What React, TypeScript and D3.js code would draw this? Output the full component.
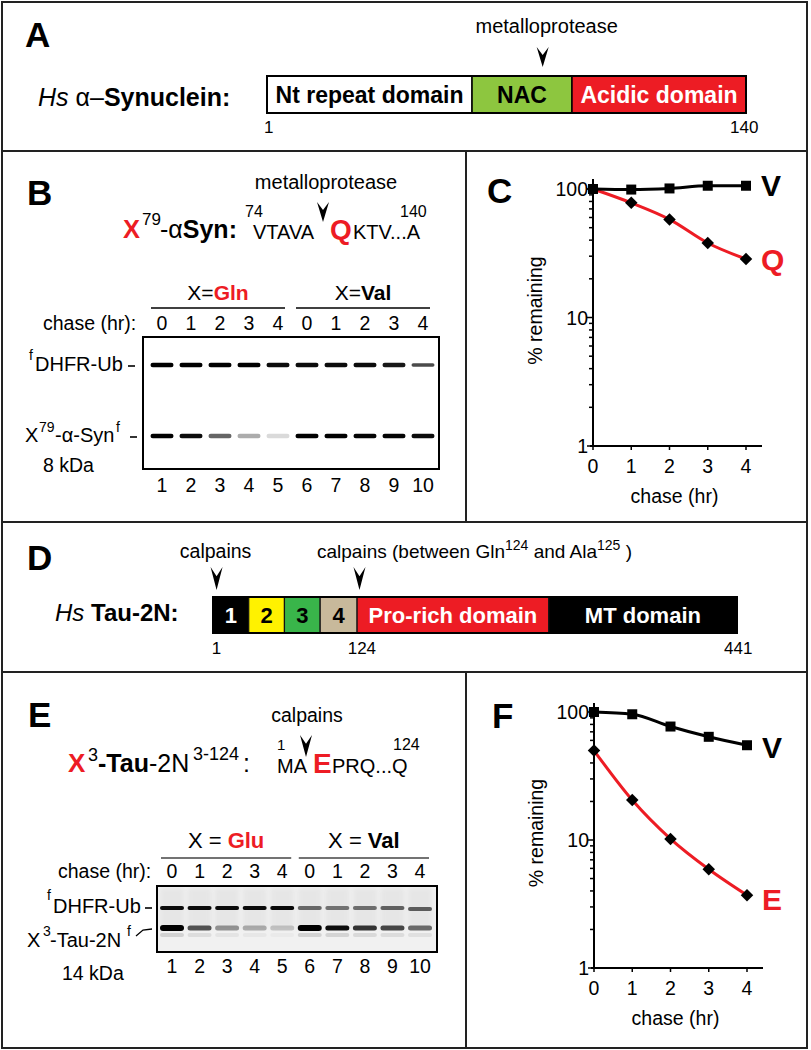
import React from 'react';
import * as d3 from 'd3';

const FONT = '"Liberation Sans", Arial, Helvetica, sans-serif';
const RED = '#ed1c24';

// ---------- Panel A: alpha-synuclein domains ----------
const synEnds = [1, 140];
const synDomainNames = ['Nt repeat domain', 'NAC', 'Acidic domain'];
const synDomainBounds = [1, 60.5, 89.5, 140];
const synDomainFills = ['#ffffff', '#8dc63f', RED];
const synDomainTextFill = ['#000000', '#000000', '#ffffff'];
const synCleavage = 81;
const synMarkPos = [1.5, 139.5];
const synMarkLabels = ['1', '140'];

// ---------- Panel D: Tau-2N domains ----------
const tauEnds = [1, 441];
const tauDomainNames = ['1', '2', '3', '4', 'Pro-rich domain', 'MT domain'];
const tauDomainBounds = [1, 31, 61, 91, 122, 283, 441];
const tauDomainFills = ['#000000', '#fff200', '#39b54a', '#c8b99b', RED, '#000000'];
const tauDomainTextFill = ['#ffffff', '#000000', '#000000', '#000000', '#ffffff', '#ffffff'];
const tauCleavages = [4, 124];
const tauMarkPos = [4, 126, 442];
const tauMarkLabels = ['1', '124', '441'];

// ---------- Gels ----------
const lanes = [1, 2, 3, 4, 5, 6, 7, 8, 9, 10];
const laneHours = [0, 1, 2, 3, 4, 0, 1, 2, 3, 4];
const gelBGroups = ['Gln', 'Val'];
const gelEGroups = ['Glu', 'Val'];
const gelB_dhfr = [1, 1, 1, 1, 0.95, 0.95, 0.95, 0.95, 0.9, 0.7];
const gelB_syn = [1, 0.95, 0.6, 0.32, 0.14, 1, 1, 0.98, 0.98, 0.95];
const gelE_dhfr = [0.95, 0.95, 0.95, 0.95, 0.97, 0.55, 0.5, 0.52, 0.58, 0.6];
const gelE_tau = [1, 0.65, 0.38, 0.28, 0.18, 1, 0.95, 0.78, 0.7, 0.55];

// ---------- Degradation curves ----------
const hours = [0, 1, 2, 3, 4];
const C_V = [100, 99, 101, 106, 106];
const C_Q = [100, 78, 58, 38, 28.5];
const F_V = [100, 96, 77, 64, 55];
const F_E = [50, 20.5, 10.2, 5.9, 3.7];

function Arrowhead({ x, y, h = 20, w = 6 }: { x: number; y: number; h?: number; w?: number }) {
  const p = d3.path();
  p.moveTo(x - w, y);
  p.lineTo(x, y + h * 0.4);
  p.lineTo(x + w, y);
  p.lineTo(x, y + h);
  p.closePath();
  return <path d={p.toString()} fill="#000" />;
}

function Frame() {
  const c = '#222';
  return (
    <g stroke={c} strokeWidth={2} fill="none">
      <rect x={2} y={2} width={805} height={1046} />
      <line x1={2} x2={807} y1={151} y2={151} />
      <line x1={2} x2={807} y1={522} y2={522} />
      <line x1={2} x2={807} y1={672} y2={672} />
      <line x1={466} x2={466} y1={151} y2={522} />
      <line x1={466} x2={466} y1={672} y2={1048} />
    </g>
  );
}

function PanelA() {
  const x = d3.scaleLinear().domain(synEnds).range([267, 746]);
  const top = 76;
  const h = 37;
  return (
    <g>
      <text x={25} y={47} fontSize={35} fontWeight="bold">A</text>
      <text x={x(synCleavage) + 4} y={33} fontSize={20} textAnchor="middle">metalloprotease</text>
      <Arrowhead x={x(synCleavage)} y={47} h={20} />
      <text x={38} y={106} fontSize={25}>
        <tspan fontStyle="italic">Hs</tspan> α–<tspan fontWeight="bold">Synuclein:</tspan>
      </text>
      {synDomainNames.map((n, i) => {
        const x0 = x(synDomainBounds[i]);
        const x1 = x(synDomainBounds[i + 1]);
        return (
          <g key={n}>
            <rect x={x0} y={top} width={x1 - x0} height={h} fill={synDomainFills[i]} stroke="#000" strokeWidth={1.5} />
            <text x={(x0 + x1) / 2} y={top + 26.5} fontSize={23} fontWeight="bold" textAnchor="middle" fill={synDomainTextFill[i]}>{n}</text>
          </g>
        );
      })}
      <rect x={x(synEnds[0])} y={top} width={x(synEnds[1]) - x(synEnds[0])} height={h} fill="none" stroke="#000" strokeWidth={2} />
      {synMarkPos.map((p, i) => (
        <text key={i} x={x(p)} y={133} fontSize={17} textAnchor="middle">{synMarkLabels[i]}</text>
      ))}
    </g>
  );
}

function PanelD() {
  const x = d3.scaleLinear().domain(tauEnds).range([213, 737]);
  const top = 597;
  const h = 36;
  return (
    <g>
      <text x={27} y={570} fontSize={35} fontWeight="bold">D</text>
      <text x={x(tauCleavages[0]) - 1} y={558} fontSize={19.5} textAnchor="middle">calpains</text>
      <text x={317} y={558} fontSize={19}>
        calpains (between Gln<tspan fontSize={14} dy={-8}>124</tspan>
        <tspan dy={8}> and Ala</tspan>
        <tspan fontSize={14} dy={-8}>125</tspan>
        <tspan dy={8}> )</tspan>
      </text>
      {tauCleavages.map((c) => (
        <Arrowhead key={c} x={x(c)} y={567} h={23} />
      ))}
      <text x={55} y={621} fontSize={24}>
        <tspan fontStyle="italic">Hs</tspan> <tspan fontWeight="bold">Tau-2N:</tspan>
      </text>
      {tauDomainNames.map((n, i) => {
        const x0 = x(tauDomainBounds[i]);
        const x1 = x(tauDomainBounds[i + 1]);
        return (
          <g key={n}>
            <rect x={x0} y={top} width={x1 - x0} height={h} fill={tauDomainFills[i]} stroke="#111" strokeWidth={1.2} />
            <text x={(x0 + x1) / 2} y={top + 26} fontSize={22} fontWeight="bold" textAnchor="middle" fill={tauDomainTextFill[i]}>{n}</text>
          </g>
        );
      })}
      <rect x={x(tauEnds[0])} y={top} width={x(tauEnds[1]) - x(tauEnds[0])} height={h} fill="none" stroke="#000" strokeWidth={2} />
      {tauMarkPos.map((p, i) => (
        <text key={i} x={x(p)} y={654} fontSize={17} textAnchor="middle">{tauMarkLabels[i]}</text>
      ))}
    </g>
  );
}

function Band({ cx, cy, w, h, v }: { cx: number; cy: number; w: number; h: number; v: number }) {
  return (
    <rect x={cx - w / 2} y={cy - h / 2} width={w} height={h} rx={h / 2} fill="#000" opacity={v} filter="url(#blur)" />
  );
}

function PanelB() {
  const lx = d3.scalePoint<number>().domain(lanes).range([162, 423]);
  const groups = [lanes.slice(0, 5), lanes.slice(5)];
  return (
    <g>
      <text x={27} y={205} fontSize={35} fontWeight="bold">B</text>
      <text x={326} y={189} fontSize={20} textAnchor="middle">metalloprotease</text>
      <Arrowhead x={323} y={202} h={20} />
      <text x={123} y={238} fontSize={25.5} fontWeight="bold" fill={RED}>X</text>
      <text x={142} y={225} fontSize={17}>79</text>
      <text x={160} y={238} fontSize={25}>-α<tspan fontWeight="bold">Syn:</tspan></text>
      <text x={245} y={217} fontSize={16}>74</text>
      <text x={253} y={239} fontSize={20}>VTAVA</text>
      <text x={330} y={239} fontSize={28} fontWeight="bold" fill={RED}>Q</text>
      <text x={353} y={239} fontSize={20}>KTV...A</text>
      <text x={400} y={217} fontSize={16}>140</text>

      {groups.map((g, gi) => {
        const x0 = (lx(g[0]) as number) - 11;
        const x1 = (lx(g[g.length - 1]) as number) + 7;
        return (
          <g key={gi}>
            <text x={(x0 + x1) / 2} y={300} fontSize={21} textAnchor="middle">
              X=<tspan fontWeight="bold" fill={gi === 0 ? RED : '#000'}>{gelBGroups[gi]}</tspan>
            </text>
            <line x1={x0} x2={x1} y1={308} y2={308} stroke="#000" strokeWidth={1.5} />
          </g>
        );
      })}
      <text x={43} y={330} fontSize={19.5}>chase (hr):</text>
      {lanes.map((l, i) => (
        <text key={l} x={lx(l)} y={330} fontSize={19.5} textAnchor="middle">{laneHours[i]}</text>
      ))}
      <rect x={143} y={337} width={296} height={132} fill="#fff" stroke="#000" strokeWidth={2} />
      {lanes.map((l, i) => (
        <g key={l}>
          <Band cx={lx(l) as number} cy={365} w={23} h={i === 9 ? 3.5 : 4.5} v={gelB_dhfr[i]} />
          <Band cx={lx(l) as number} cy={436} w={23} h={4.5} v={gelB_syn[i]} />
        </g>
      ))}
      <text x={29} y={360} fontSize={14}>f</text>
      <text x={35} y={371} fontSize={20}>DHFR-Ub</text>
      <line x1={128} x2={135} y1={366} y2={366} stroke="#000" strokeWidth={1.6} />
      <text x={25} y={442} fontSize={20}>X</text>
      <text x={39} y={432} fontSize={14}>79</text>
      <text x={55} y={442} fontSize={20}>-α-Syn</text>
      <text x={116} y={432} fontSize={14}>f</text>
      <line x1={130} x2={137} y1={437} y2={437} stroke="#000" strokeWidth={1.6} />
      <text x={43} y={472} fontSize={19.5}>8 kDa</text>
      {lanes.map((l) => (
        <text key={l} x={lx(l)} y={492} fontSize={19.5} textAnchor="middle">{l}</text>
      ))}
    </g>
  );
}

function PanelE() {
  const lx = d3.scalePoint<number>().domain(lanes).range([172, 420]);
  const groups = [lanes.slice(0, 5), lanes.slice(5)];
  return (
    <g>
      <text x={28} y={727} fontSize={35} fontWeight="bold">E</text>
      <text x={307} y={722} fontSize={19.5} textAnchor="middle">calpains</text>
      <Arrowhead x={306} y={735} h={22} />
      <text x={277} y={750} fontSize={15}>1</text>
      <text x={277} y={773} fontSize={20}>MA</text>
      <text x={313} y={773} fontSize={28} fontWeight="bold" fill={RED}>E</text>
      <text x={332} y={773} fontSize={20}>PRQ...Q</text>
      <text x={393} y={750} fontSize={16}>124</text>

      <text x={68} y={772} fontSize={26} fontWeight="bold" fill={RED}>X</text>
      <text x={88} y={761} fontSize={18}>3</text>
      <text x={98} y={772} fontSize={25}><tspan fontWeight="bold">-Tau</tspan>-2N</text>
      <text x={193} y={760} fontSize={18}>3-124</text>
      <text x={243} y={772} fontSize={25}>:</text>

      {groups.map((g, gi) => {
        const x0 = (lx(g[0]) as number) - 11;
        const x1 = (lx(g[g.length - 1]) as number) + 9;
        return (
          <g key={gi}>
            <text x={(x0 + x1) / 2} y={848} fontSize={22} textAnchor="middle">
              X = <tspan fontWeight="bold" fill={gi === 0 ? RED : '#000'}>{gelEGroups[gi]}</tspan>
            </text>
            <line x1={x0} x2={x1} y1={858} y2={858} stroke="#444" strokeWidth={1.5} />
          </g>
        );
      })}
      <text x={58} y={878} fontSize={19.5}>chase (hr):</text>
      {lanes.map((l, i) => (
        <text key={l} x={lx(l)} y={878} fontSize={19.5} textAnchor="middle">{laneHours[i]}</text>
      ))}
      <rect x={157} y={886} width={280} height={66} fill="#f1f1f1" />
      {lanes.map((l, i) => (
        <g key={l}>
          <rect x={(lx(l) as number) - 12} y={888} width={24} height={40} fill="#c8c8c8" opacity={0.25} filter="url(#blur2)" />
          <Band cx={lx(l) as number} cy={935} w={24} h={4} v={0.12 * gelE_tau[i]} />
          <Band cx={lx(l) as number} cy={i === 9 ? 909 : 908} w={24} h={4} v={gelE_dhfr[i]} />
          <Band cx={lx(l) as number} cy={928} w={24} h={i === 0 || i === 5 ? 6 : 5} v={gelE_tau[i]} />
        </g>
      ))}
      <rect x={157} y={886} width={280} height={66} fill="none" stroke="#000" strokeWidth={2} />
      <text x={47} y={900} fontSize={14}>f</text>
      <text x={53} y={913} fontSize={20}>DHFR-Ub</text>
      <line x1={145} x2={152} y1={908} y2={908} stroke="#000" strokeWidth={1.6} />
      <text x={27} y={947} fontSize={20}>X</text>
      <text x={43} y={936} fontSize={14}>3</text>
      <text x={50} y={947} fontSize={20}>-Tau-2N</text>
      <text x={127} y={936} fontSize={14}>f</text>
      <polyline points="136,936 143,930 152,929" fill="none" stroke="#000" strokeWidth={1.3} />
      <text x={62} y={980} fontSize={19.5}>14 kDa</text>
      {lanes.map((l) => (
        <text key={l} x={lx(l)} y={973} fontSize={19.5} textAnchor="middle">{l}</text>
      ))}
    </g>
  );
}

type PlotProps = {
  letter: string;
  letterX: number;
  letterY: number;
  xRange: [number, number];
  yAt1: number;
  yAt100: number;
  axisTop: number;
  axisRight: number;
  black: number[];
  red: number[];
  blackName: string;
  redName: string;
  blackDy: number;
  redDy: number;
};

function LogPlot(p: PlotProps) {
  const xs = d3.scaleLinear().domain(d3.extent(hours) as [number, number]).range(p.xRange);
  const ys = d3.scaleLog().domain([1, 100]).range([p.yAt1, p.yAt100]);
  const line = d3
    .line<number>()
    .x((_, i) => xs(hours[i]))
    .y((d) => ys(d))
    .curve(d3.curveMonotoneX);
  const ax = xs(0);
  const ay = ys(1);
  const sq = d3.symbol(d3.symbolSquare, 100)();
  const dm = d3.symbol(d3.symbolSquare, 78)();
  const ticks = ys.ticks();
  const isMajor = (t: number) => Math.abs(Math.log10(t) - Math.round(Math.log10(t))) < 1e-9;
  const last = hours.length - 1;
  return (
    <g>
      <text x={p.letterX} y={p.letterY} fontSize={35} fontWeight="bold">{p.letter}</text>
      <line x1={ax} x2={ax} y1={p.axisTop} y2={ay} stroke="#000" strokeWidth={2} />
      <line x1={ax - 3} x2={p.axisRight} y1={ay} y2={ay} stroke="#000" strokeWidth={2} />
      {ticks.map((t) => (
        <line key={t} x1={ax} x2={ax - (isMajor(t) ? 6 : 4)} y1={ys(t)} y2={ys(t)} stroke="#000" strokeWidth={1.5} />
      ))}
      {ticks.filter(isMajor).map((t) => (
        <text key={t} x={ax - 5} y={ys(t) + 7} fontSize={19.5} textAnchor="end">{t}</text>
      ))}
      {hours.map((h) => (
        <g key={h}>
          <line x1={xs(h)} x2={xs(h)} y1={ay} y2={ay + 4} stroke="#000" strokeWidth={1.5} />
          <text x={xs(h)} y={ay + 27} fontSize={19.5} textAnchor="middle">{h}</text>
        </g>
      ))}
      <text x={(ax + p.axisRight) / 2 - 3} y={ay + 57} fontSize={19.5} textAnchor="middle">chase (hr)</text>
      <text
        transform={`translate(${ax - 51},${(ys(1) + ys(100)) / 2 - 7}) rotate(-90)`}
        fontSize={19.5}
        textAnchor="middle"
      >
        % remaining
      </text>
      <path d={line(p.red) || ''} fill="none" stroke={RED} strokeWidth={3} />
      <path d={line(p.black) || ''} fill="none" stroke="#000" strokeWidth={3} />
      {p.red.map((v, i) => (
        <path key={i} d={dm || ''} transform={`translate(${xs(hours[i])},${ys(v)}) rotate(45)`} fill="#000" />
      ))}
      {p.black.map((v, i) => (
        <path key={i} d={sq || ''} transform={`translate(${xs(hours[i])},${ys(v)})`} fill="#000" />
      ))}
      <text x={xs(hours[last]) + 15} y={ys(p.black[last]) + p.blackDy} fontSize={30} fontWeight="bold">{p.blackName}</text>
      <text x={xs(hours[last]) + 15} y={ys(p.red[last]) + p.redDy} fontSize={30} fontWeight="bold" fill={RED}>{p.redName}</text>
    </g>
  );
}

export default function App() {
  return (
    <svg
      width={811}
      height={1050}
      viewBox="0 0 811 1050"
      style={{ position: 'absolute', left: 0, top: 0 }}
      fontFamily={FONT}
    >
      <defs>
        <filter id="blur" x="-20%" y="-150%" width="140%" height="400%">
          <feGaussianBlur stdDeviation="0.6" />
        </filter>
        <filter id="blur2" x="-50%" y="-50%" width="200%" height="200%">
          <feGaussianBlur stdDeviation="2" />
        </filter>
      </defs>
      <rect width={811} height={1050} fill="#fff" />
      <PanelA />
      <PanelB />
      <LogPlot
        letter="C"
        letterX={487}
        letterY={203}
        xRange={[593, 746]}
        yAt1={446}
        yAt100={189}
        axisTop={179}
        axisRight={762}
        black={C_V}
        red={C_Q}
        blackName="V"
        redName="Q"
        blackDy={10}
        redDy={11}
      />
      <PanelD />
      <PanelE />
      <LogPlot
        letter="F"
        letterX={492}
        letterY={728}
        xRange={[594, 747]}
        yAt1={968}
        yAt100={712}
        axisTop={703}
        axisRight={763}
        black={F_V}
        red={F_E}
        blackDy={13}
        redDy={15}
        blackName="V"
        redName="E"
      />
      <Frame />
    </svg>
  );
}
